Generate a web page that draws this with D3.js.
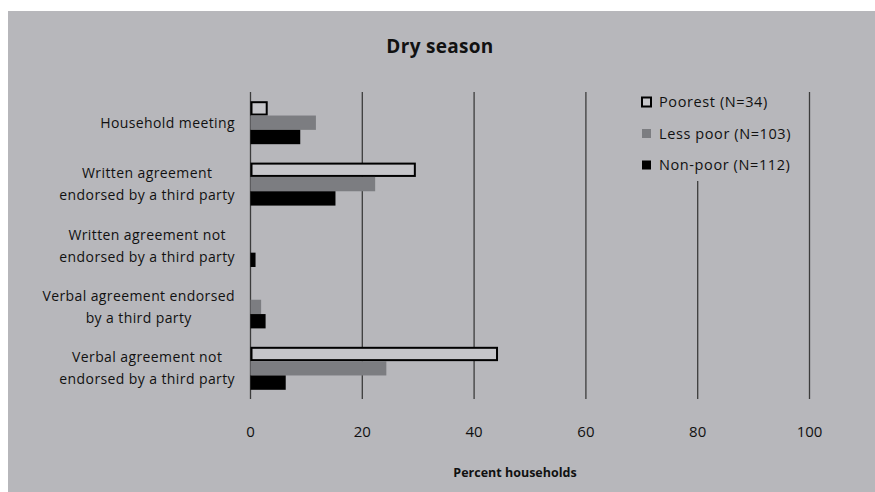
<!DOCTYPE html>
<html><head><meta charset="utf-8">
<script src="https://cdn.jsdelivr.net/npm/d3@7"></script>
<style>body{margin:0;background:#fff}svg{display:block}</style>
</head><body>
<svg id="c" width="875" height="492"></svg>
<script>
const categories = [
  ["Household meeting"],
  ["Written agreement", "endorsed by a third party"],
  ["Written agreement not", "endorsed by a third party"],
  ["Verbal agreement endorsed", "by a third party"],
  ["Verbal agreement not", "endorsed by a third party"]
];
const seriesNames = ["Poorest (N=34)", "Less poor (N=103)", "Non-poor (N=112)"];
const poorest = [2.9, 29.4, 0, 0, 44.1];
const lessPoor = [11.7, 22.3, 0, 1.9, 24.3];
const nonPoor = [8.9, 15.2, 0.9, 2.7, 6.3];
const xTicks = [0, 20, 40, 60, 80, 100];

const font = "'Open Sans', 'Lato', sans-serif";
const bg = "#b7b7bb";
const svg = d3.select("#c");
svg.append("rect").attr("x", 8).attr("y", 11).attr("width", 867).attr("height", 481).attr("fill", bg);

const x = d3.scaleLinear().domain([0, 100]).range([250.5, 809.5]);
const y = d3.scaleBand().domain(d3.range(categories.length)).range([92, 399]).paddingInner(0.3).paddingOuter(0.15);
const series = [poorest, lessPoor, nonPoor];
const sub = d3.scaleBand().domain([0, 1, 2]).range([0, y.bandwidth()]);
const fills = ["#c6c6ca", "#7c7d81", "#000000"];

// gridlines
svg.append("g").selectAll("line").data(xTicks).join("line")
  .attr("x1", d => x(d)).attr("x2", d => x(d))
  .attr("y1", 92).attr("y2", 399)
  .attr("stroke", "#3c3c3c").attr("stroke-width", 1.3);

// bars
series.forEach((vals, si) => {
  const g = svg.append("g");
  vals.forEach((v, i) => {
    if (v <= 0) return;
    const sw = si === 0 ? 2 : 0;
    g.append("rect")
      .attr("x", x(0) + sw / 2)
      .attr("y", y(i) + sub(si) + sw / 2)
      .attr("width", x(v) - x(0) - sw / 2)
      .attr("height", sub.bandwidth() - sw)
      .attr("fill", fills[si])
      .attr("stroke", si === 0 ? "#000" : "none")
      .attr("stroke-width", sw);
  });
});

// category labels
categories.forEach((lines, i) => {
  const cy = y(i) + y.bandwidth() / 2;
  const g = svg.append("g");
  const texts = lines.map((t, li) => g.append("text").text(t)
    .attr("font-family", font).attr("font-size", 14).attr("letter-spacing", 0.4).attr("fill", "#111"));
  const widths = texts.map(t => t.node().getComputedTextLength());
  const maxw = d3.max(widths);
  const cx = 235 - maxw / 2;
  const n = lines.length;
  texts.forEach((t, li) => {
    const base = cy + 5 + (li - (n - 1) / 2) * 22;
    t.attr("x", cx).attr("y", base).attr("text-anchor", "middle");
  });
});

// x tick labels
svg.append("g").selectAll("text").data(xTicks).join("text")
  .attr("x", d => x(d)).attr("y", 437)
  .attr("text-anchor", "middle").attr("font-family", font).attr("font-size", 15).attr("fill", "#111")
  .text(d => d);

// axis title
svg.append("text").attr("x", 515).attr("y", 477).attr("text-anchor", "middle")
  .attr("font-family", font).attr("font-size", 12.5).attr("font-weight", "bold").attr("fill", "#111")
  .text("Percent households");

// title
svg.append("text").attr("x", 440).attr("y", 53).attr("text-anchor", "middle")
  .attr("font-family", font).attr("font-size", 19).attr("font-weight", "bold").attr("letter-spacing", 0.3).attr("fill", "#111")
  .text("Dry season");

// legend
const lg = svg.append("g");
lg.append("rect").attr("x", 632).attr("y", 90).attr("width", 172).attr("height", 91).attr("fill", bg);
seriesNames.forEach((nm, i) => {
  const ly = 102 + i * 31.5;
  lg.append("rect").attr("x", 642).attr("y", ly - 4.5).attr("width", 9).attr("height", 9)
    .attr("fill", fills[i]).attr("stroke", i === 0 ? "#000" : "none").attr("stroke-width", i === 0 ? 2 : 0);
  lg.append("text").attr("x", 659).attr("y", ly + 5).attr("font-family", font).attr("font-size", 14.5)
    .attr("letter-spacing", 0.6).attr("fill", "#111").text(nm);
});
</script>
</body></html>
